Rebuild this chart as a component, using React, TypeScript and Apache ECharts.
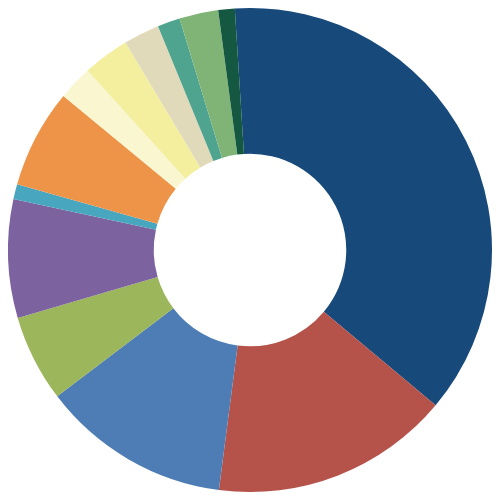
import React, { useEffect, useRef } from 'react';
import * as echarts from 'echarts';

// slice shares (percent), clockwise from the top
const sliceNames = ['A', 'B', 'C', 'D', 'E', 'F', 'G', 'H', 'I', 'J', 'K', 'L', 'M'];
const sliceValues = [37.05, 15.95, 12.6, 5.8, 7.9, 1.0, 6.6, 2.3, 3.1, 2.4, 1.5, 2.6, 1.1];
const sliceColors = [
    '#174a7b', '#b5534b', '#4e7db5', '#9bb65b', '#7d62a0', '#48a7bf', '#ee9449',
    '#f9f6d0', '#f4ef9f', '#e0dabb', '#4ea48f', '#80b476', '#145841',
];

const App: React.FC = () => {
    const chartRef = useRef<HTMLDivElement>(null);

    useEffect(() => {
        if (!chartRef.current) return;
        const chart = echarts.init(chartRef.current, undefined, { renderer: 'svg' });

        const option = {
            animation: false,
            series: [{
                type: 'pie',
                center: ['50%', '50%'],
                radius: ['38.5%', '96.8%'],
                startAngle: 93.6,
                clockwise: true,
                label: { show: false },
                labelLine: { show: false },
                itemStyle: { borderWidth: 0 },
                emphasis: { disabled: true },
                data: sliceNames.map((name, i) => ({
                    name,
                    value: sliceValues[i],
                    itemStyle: { color: sliceColors[i] },
                })),
            }],
        };

        chart.setOption(option);

        return () => {
            chart.dispose();
        };
    }, []);

    return (
        <div
            ref={chartRef}
            style={{ position: 'fixed', left: 0, top: 0, width: '500px', height: '500px', background: '#fff' }}
        />
    );
};

export default App;
